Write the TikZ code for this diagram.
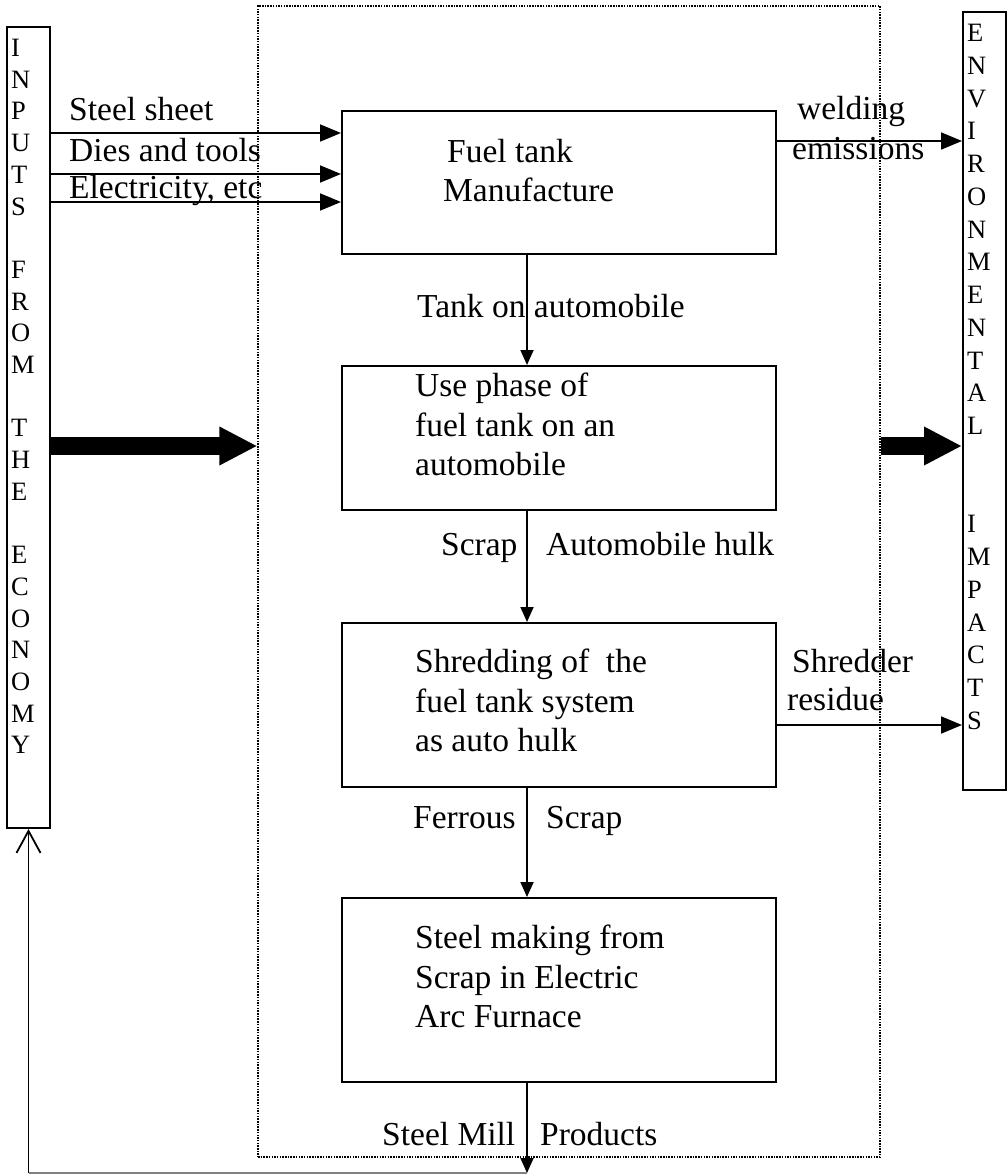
\documentclass[tikz,border=0pt]{standalone}
\usepackage{fontspec}
\setmainfont{Liberation Serif}
\usetikzlibrary{arrows.meta}

\begin{document}
\begin{tikzpicture}[x=1pt,y=-1pt,
    every node/.style={inner sep=0pt},
    lbl/.style={anchor=base west, font=\fontsize{33.5}{39.5}\selectfont},
    boxtxt/.style={align=left, anchor=north west, font=\fontsize{33.5}{39.5}\selectfont},
    box/.style={draw, line width=2pt, minimum width=434pt},
    column/.style={draw, line width=2pt, minimum width=43pt},
    coltxt/.style={align=left, anchor=north west},
    arr/.style={line width=1.8pt, -{Triangle[length=21pt,width=17pt]}},
    darr/.style={line width=1.8pt, -{Triangle[length=15pt,width=13pt]}},
    fat/.style={line width=18pt, -{Triangle[length=38pt,width=36pt]}}]
\useasboundingbox (0,0) rectangle (1007,1174);

% dotted system boundary
\node[draw, line width=1.2pt, dash pattern=on 1.5pt off 1.2pt, minimum width=622pt, minimum height=1151pt] (frame) at (569,581.5) {};

% outer columns
\node[column, minimum height=801pt] (inputs) at (28.5,427.5) {};
\node[coltxt, font=\fontsize{26.5}{31.7}\selectfont] (inputstxt) at (11,39) {I\\N\\P\\U\\T\\S\\~\\F\\R\\O\\M\\~\\T\\H\\E\\~\\E\\C\\O\\N\\O\\M\\Y};
\node[column, minimum height=778pt] (impacts) at (984.5,401) {};
\node[coltxt, font=\fontsize{26.5}{32.76}\selectfont] (impactstxt) at (967,24) {E\\N\\V\\I\\R\\O\\N\\M\\E\\N\\T\\A\\L\\~\\~\\I\\M\\P\\A\\C\\T\\S};

% process boxes
\node[box, minimum height=143pt] (manuf) at (559,182.5) {};
\node[box, minimum height=144pt] (usephase) at (559,438) {};
\node[box, minimum height=164pt] (shred) at (559,705) {};
\node[box, minimum height=184pt] (eaf) at (559,990) {};
\node[boxtxt] (manuftxt) at (443,139) {\hspace*{4pt}Fuel tank\\Manufacture};
\node[boxtxt] (usetxt) at (415,373) {Use phase of\\fuel tank on an\\automobile};
\node[boxtxt] (shredtxt) at (415,649) {Shredding of\ \ the\\fuel tank system\\as auto hulk};
\node[boxtxt] (eaftxt) at (415,925) {Steel making from\\Scrap in Electric\\Arc Furnace};

% flow labels
\node[lbl] (steel) at (69,121) {Steel sheet};
\node[lbl] (dies) at (69,162) {Dies and tools};
\node[lbl] (elec) at (69,199) {Electricity, etc};
\node[lbl] (weld) at (797,120) {welding};
\node[lbl] (emis) at (792,160) {emissions};
\node[lbl] (tank) at (417,317) {Tank on automobile};
\node[lbl] (scrap) at (441,555) {Scrap};
\node[lbl] (hulk) at (546,555) {Automobile hulk};
\node[lbl] (shredder) at (792,672) {Shredder};
\node[lbl] (resid) at (787,710) {residue};
\node[lbl] (ferrous) at (413,828) {Ferrous};
\node[lbl] (fscrap) at (546,828) {Scrap};
\node[lbl] (mill) at (382,1145) {Steel Mill};
\node[lbl] (prod) at (540,1145) {Products};

\coordinate (axis) at (527,0);
\coordinate (y1) at (0,133); \coordinate (y2) at (0,174); \coordinate (y3) at (0,202);
\coordinate (yw) at (0,141); \coordinate (ys) at (0,725); \coordinate (yf) at (0,446);
\coordinate (ret) at (527,1173);

% inputs and emissions
\draw[arr] (inputs.east |- y1) -- (manuf.west |- y1);
\draw[arr] (inputs.east |- y2) -- (manuf.west |- y2);
\draw[arr] (inputs.east |- y3) -- (manuf.west |- y3);
\draw[arr] (manuf.east |- yw) -- (impacts.west |- yw);
\draw[arr] (shred.east |- ys) -- (impacts.west |- ys);
\draw[fat] (inputs.east |- yf) -- (frame.west |- yf);
\draw[fat] (frame.east |- yf) -- (impacts.west |- yf);

% main chain
\draw[darr] (manuf.south -| axis) -- (usephase.north -| axis);
\draw[darr] (usephase.south -| axis) -- (shred.north -| axis);
\draw[darr] (shred.south -| axis) -- (eaf.north -| axis);
\draw[darr] (eaf.south -| axis) -- (ret);
\draw[line width=1.5pt, black!50] (ret) -- (ret -| inputs.south);
\draw[line width=1.8pt, -{Straight Barb[length=22pt,width=24pt]}] (ret -| inputs.south) -- (inputs.south);
\end{tikzpicture}
\end{document}
